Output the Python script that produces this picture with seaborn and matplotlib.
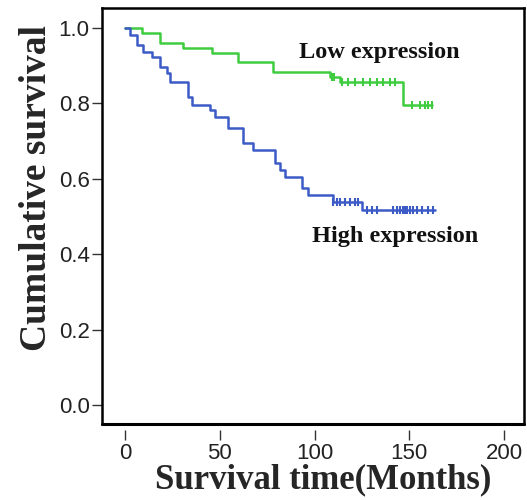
import numpy as np
import pandas as pd
import matplotlib
matplotlib.use("Agg")
import matplotlib.pyplot as plt
import seaborn as sns

# ---- data ----
low_event_times = [0, 9.0, 18.5, 30.6, 45.9, 59.6, 78.1, 108.2, 113.5, 146.7]
low_surv = [1.0, 0.987, 0.961, 0.948, 0.935, 0.909, 0.883, 0.870, 0.857, 0.796]
low_end = 162.0
low_censor = [109.0, 110.5, 114.5, 117.7, 121.4, 125.6, 129.3, 133.0, 136.2,
              139.9, 142.5, 151.5, 155.7, 158.3, 159.9, 162.0]

high_event_times = [0, 2.6, 6.3, 9.5, 14.2, 18.5, 22.2, 23.7, 33.2, 35.4, 44.9,
                    47.5, 54.4, 62.3, 67.5, 79.2, 81.8, 84.4, 93.4, 96.6, 109.8, 125.0]
high_surv = [1.0, 0.981, 0.955, 0.936, 0.923, 0.897, 0.881, 0.857, 0.817, 0.796,
             0.782, 0.764, 0.735, 0.695, 0.676, 0.642, 0.623, 0.605, 0.576, 0.557,
             0.538, 0.517]
high_end = 163.6
high_censor = [110.0, 112.0, 113.5, 116.0, 118.6, 121.3, 123.0, 127.7, 130.3,
               133.0, 141.4, 143.5, 145.0, 146.7, 147.8, 148.8, 150.4, 152.0,
               154.0, 156.7, 159.9, 162.5]

x_ticks = [0, 50, 100, 150, 200]
y_ticks = [0.0, 0.2, 0.4, 0.6, 0.8, 1.0]

GREEN = "#40cc40"
BLUE = "#3d5bc6"


def curve_df(times, surv, end):
    t = list(times) + [end]
    s = list(surv) + [surv[-1]]
    return pd.DataFrame({"time": t, "surv": s})


def censor_df(times, surv, ctimes):
    idx = np.searchsorted(np.asarray(times), np.asarray(ctimes), side="right") - 1
    return pd.DataFrame({"time": ctimes, "surv": np.asarray(surv)[idx]})


sns.set_theme(style="white")
plt.rcParams["font.family"] = ["Liberation Sans", "DejaVu Sans"]

fig = plt.figure(figsize=(5.27, 5.0), dpi=100)
ax = fig.add_axes([102 / 527, 1 - 424 / 500, (524 - 102) / 527, (424 - 8) / 500])

sns.lineplot(data=curve_df(low_event_times, low_surv, low_end), x="time", y="surv",
             drawstyle="steps-post", estimator=None, sort=False, color=GREEN,
             linewidth=1.8, ax=ax)
sns.lineplot(data=curve_df(high_event_times, high_surv, high_end), x="time", y="surv",
             drawstyle="steps-post", estimator=None, sort=False, color=BLUE,
             linewidth=1.8, ax=ax)
sns.scatterplot(data=censor_df(low_event_times, low_surv, low_censor), x="time", y="surv",
                marker="|", s=35, linewidth=1.5, color=GREEN, ax=ax)
sns.scatterplot(data=censor_df(high_event_times, high_surv, high_censor), x="time", y="surv",
                marker="|", s=35, linewidth=1.5, color=BLUE, ax=ax)

ax.set_xlim(-12.1, 210.5)
ax.set_ylim(-0.050, 1.053)
ax.set_xticks(x_ticks)
ax.set_xticklabels([str(v) for v in x_ticks])
ax.set_yticks(y_ticks)
ax.set_yticklabels([f"{v:.1f}" for v in y_ticks])

for sp in ax.spines.values():
    sp.set_color("black")
    sp.set_linewidth(1.8)
ax.spines["bottom"].set_position(("outward", 4))
ax.spines["bottom"].set_visible(False)
ax.axhline(-0.050, color="black", linewidth=2.2, clip_on=False)

ax.tick_params(axis="both", direction="out", length=7, width=1.0, color="#333333",
               labelsize=16, labelcolor="#222222", bottom=True, left=True)
ax.tick_params(axis="x", pad=3)
ax.tick_params(axis="y", pad=2)

serif = ["Liberation Serif", "DejaVu Serif"]
ax.set_xlabel("Survival time(Months)", fontsize=25, fontweight="bold", family=serif)
ax.set_ylabel("Cumulative survival", fontsize=27, fontweight="bold", family=serif)
ax.xaxis.set_label_coords(0.524, -0.094)
ax.yaxis.set_label_coords(-0.113, 0.567)

ax.text(134, 0.936, "Low expression", fontsize=17.5, fontweight="bold", family=serif,
        ha="center", va="center", color="#111111")
ax.text(142.5, 0.446, "High expression", fontsize=17.5, fontweight="bold", family=serif,
        ha="center", va="center", color="#111111")

fig.savefig("out.png", dpi=100)
